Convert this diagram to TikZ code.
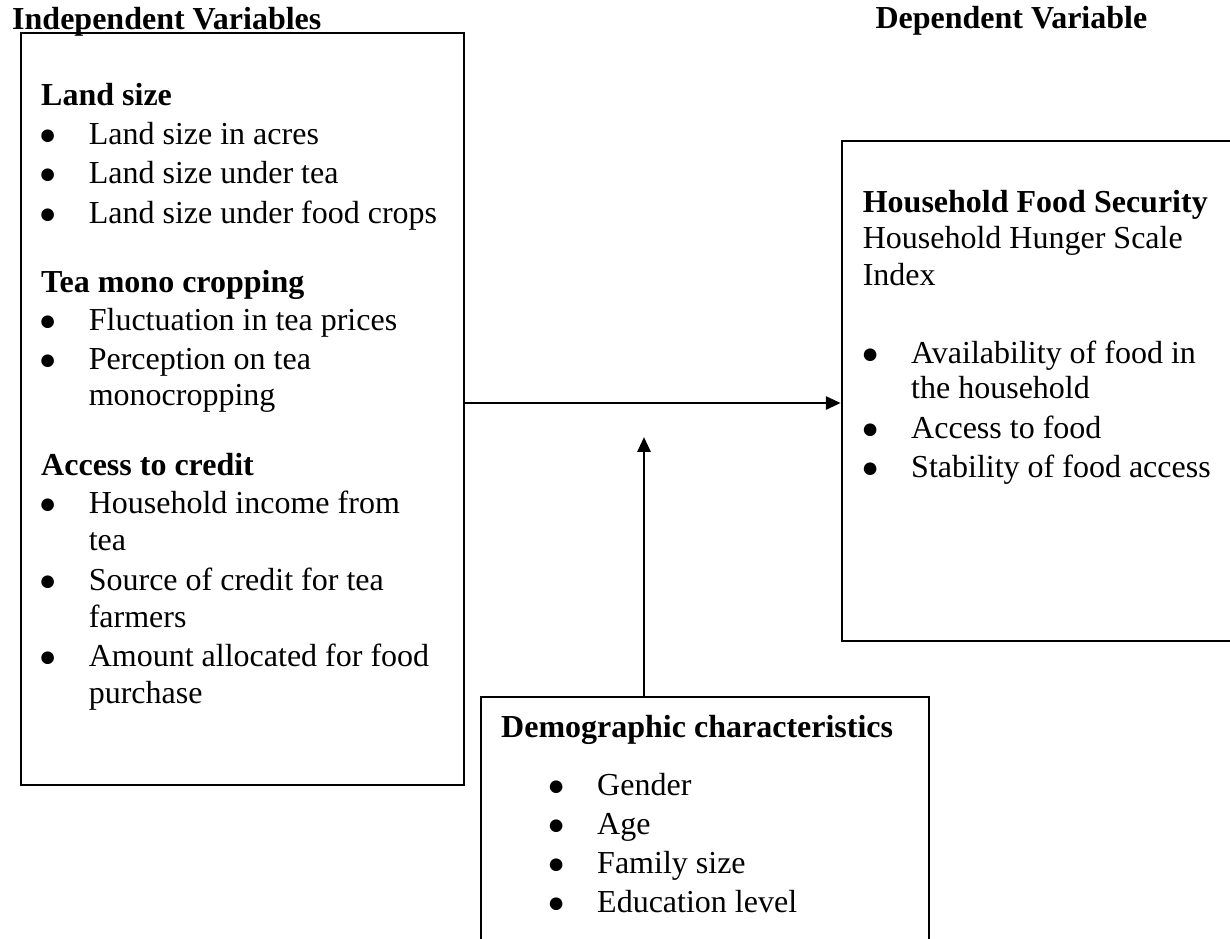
\documentclass[tikz,border=0pt]{standalone}
\usepackage{fontspec}
\setmainfont{Liberation Serif}
\usepackage{graphicx}
\usetikzlibrary{positioning, fit, arrows.meta}

\newcommand{\blt}{\makebox[0pt][r]{\makebox[30.8pt]{{\fontsize{11}{12}\selectfont ●}}}}

\begin{document}
\begin{tikzpicture}[x=0.375pt, y=-0.375pt,
    box/.style={draw, line width=0.75pt, inner sep=0pt},
    txt/.style={anchor=base west, inner sep=0pt, font=\fontsize{12}{14}\selectfont},
    hd/.style={txt, font=\fontsize{12}{14}\selectfont\bfseries},
    arr/.style={-{Triangle[length=5.6pt, width=4.9pt]}, line width=1pt}]
  \useasboundingbox (0,0) rectangle (1230,938);

  % column headings
  \node[hd] (indhead) at (11.7,29) {Independent Variables};
  \node[hd] (dephead) at (875,28.3) {Dependent Variable};

  % boxes
  \node[box, fit={(20.7,33.3) (464,785)}] (indep) {};
  \node[box, fit={(841.7,140.7) (1250,641)}] (dep) {};
  \node[box, fit={(481,697) (929,960)}] (demo) {};

  % independent variables
  \node[hd] (land) at (40.7,105) {Land size};
  \foreach \y/\t [count=\i] in {144/Land size in acres, 183/Land size under tea,
      223/Land size under food crops}
    \node[txt] (land\i) at (88.3,\y) {\blt\t};
  \node[hd] (mono) at (40.7,292) {Tea mono cropping};
  \foreach \y/\t [count=\i] in {330/\blt Fluctuation in tea prices, 369/\blt Perception on tea,
      405/monocropping}
    \node[txt] (mono\i) at (88.3,\y) {\t};
  \node[hd] (cred) at (40.7,475) {Access to credit};
  \foreach \y/\t [count=\i] in {513/\blt Household income from, 550/tea,
      590/\blt Source of credit for tea, 627/farmers,
      666/\blt Amount allocated for food, 703/purchase}
    \node[txt] (cred\i) at (88.3,\y) {\t};

  % dependent variable
  \node[hd] (hfs) at (862.3,212) {Household Food Security};
  \node[txt] (hhs) at (862.3,248) {Household Hunger Scale};
  \node[txt] (hhsi) at (862.3,285) {Index};
  \foreach \y/\t [count=\i] in {363/\blt Availability of food in, 398/the household,
      438/\blt Access to food, 477/\blt Stability of food access}
    \node[txt] (hfs\i) at (910.7,\y) {\t};

  % moderating variables
  \node[hd] (demog) at (500.7,737) {Demographic characteristics};
  \foreach \y/\t [count=\i] in {795/Gender, 834/Age, 873/Family size, 912/Education level}
    \node[txt] (demog\i) at (596.7,\y) {\blt\t};

  % arrows
  \coordinate (hline) at (0,403);
  \coordinate (vtip) at (644,437);
  \draw[arr] (indep.east |- hline) -- (dep.west |- hline);
  \draw[arr] (demo.north -| vtip) -- (vtip);
\end{tikzpicture}
\end{document}
